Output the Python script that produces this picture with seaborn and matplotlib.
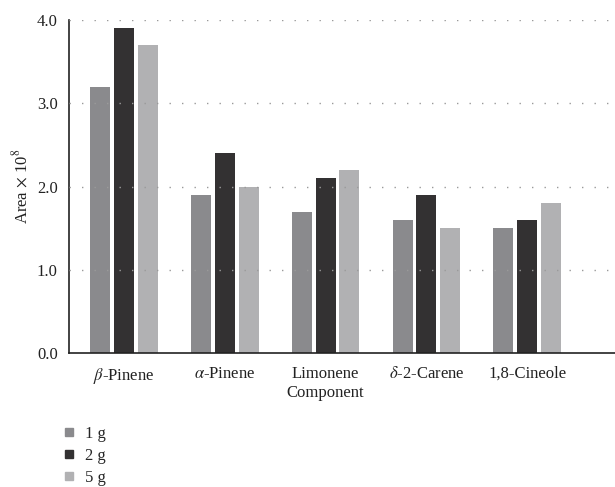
import matplotlib
matplotlib.use("Agg")
import matplotlib.pyplot as plt
from matplotlib.lines import Line2D
import seaborn as sns
import pandas as pd

components = [r"$\beta$-Pinene", r"$\alpha$-Pinene", "Limonene", r"$\delta$-2-Carene", "1,8-Cineole"]
doses = ["1 g", "2 g", "5 g"]
area_1g = [3.2, 1.9, 1.7, 1.6, 1.5]
area_2g = [3.9, 2.4, 2.1, 1.9, 1.6]
area_5g = [3.7, 2.0, 2.2, 1.5, 1.8]
colors = ["#8a8a8d", "#333132", "#b1b1b3"]

rows = []
for dose, vals in zip(doses, [area_1g, area_2g, area_5g]):
    for comp, v in zip(components, vals):
        rows.append({"Component": comp, "Dose": dose, "Area": v})
df = pd.DataFrame(rows)

sns.set_style("white")
plt.rcParams["font.family"] = ["Liberation Serif", "DejaVu Serif"]
plt.rcParams["mathtext.fontset"] = "stix"
plt.rcParams["font.size"] = 12

fig = plt.figure(figsize=(6.15, 4.87), dpi=100)
ax = fig.add_axes([0.112, 0.275, 0.888, 0.684])

sns.barplot(data=df, x="Component", y="Area", hue="Dose", order=components,
            hue_order=doses, palette=colors, width=0.71, gap=0.16,
            saturation=1, legend=False, ax=ax, errorbar=None, zorder=2,
            linewidth=0)

xmin, xmax = -0.545, 4.87
ax.set_xlim(xmin, xmax)
ax.set_ylim(0, 4.0)
ax.set_yticks([0, 1, 2, 3, 4])
ax.set_yticklabels(["0.0", "1.0", "2.0", "3.0", "4.0"], color="#222222", fontsize=12.5)
ax.set_ylabel(r"Area $\times$ 10$^{8}$", color="#222222", labelpad=4, fontsize=12)
ax.set_xlabel("Component", color="#222222", labelpad=1, fontsize=12)
ax.xaxis.set_label_coords((2 - xmin) / (xmax - xmin), -0.095)
ax.tick_params(axis="both", length=0, colors="#222222", labelsize=12)
ax.tick_params(axis="y", pad=8)
ax.tick_params(axis="x", pad=9)

for y in [1, 2, 3, 4]:
    ax.axhline(y, color="#9a9a9a", linewidth=1.0, linestyle=(0, (1, 8)), zorder=3)

for side in ["top", "right"]:
    ax.spines[side].set_visible(False)
for side in ["left", "bottom"]:
    ax.spines[side].set_color("#222222")
    ax.spines[side].set_linewidth(1.2)

handles = [Line2D([0], [0], marker="s", linestyle="none", markersize=6,
                  markerfacecolor=c, markeredgecolor=c) for c in colors]
fig.legend(handles, doses, loc="upper left", bbox_to_anchor=(0.098, 1 - 426 / 487),
           frameon=False, handletextpad=0.5, labelspacing=0.35, handlelength=1.0,
           borderaxespad=0, borderpad=0, fontsize=12)

fig.savefig("out.png", dpi=100)
